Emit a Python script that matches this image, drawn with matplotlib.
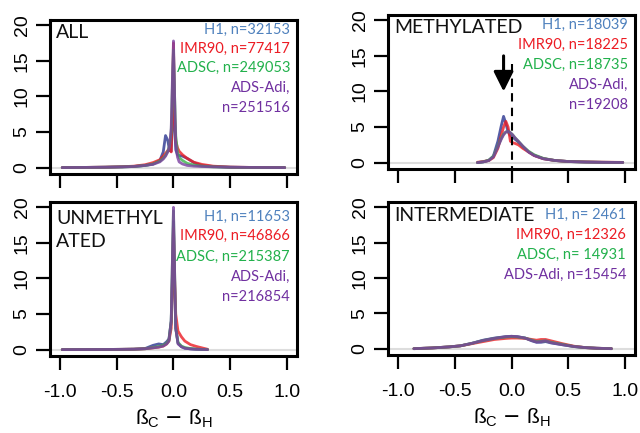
import matplotlib
matplotlib.use('Agg')
import matplotlib.pyplot as plt

# density curves of beta difference (cultured minus tissue), four cell types

# ALL
all_x = [-0.98, -0.8, -0.6, -0.45, -0.35, -0.25, -0.18, -0.12, -0.09, -0.07, -0.05, -0.035,
         -0.02, -0.01, 0.0, 0.01, 0.02, 0.035, 0.05, 0.08, 0.12, 0.18, 0.25, 0.35, 0.5, 0.7, 0.98]
all_h1 = [0.0, 0.02, 0.05, 0.1, 0.15, 0.3, 0.5, 1.0, 2.2, 4.5, 3.8, 2.4,
          2.3, 6.0, 16.0, 6.0, 2.5, 1.8, 1.7, 1.6, 1.3, 0.7, 0.3, 0.15, 0.05, 0.02, 0.0]
all_imr90 = [0.0, 0.02, 0.06, 0.12, 0.2, 0.4, 0.7, 1.1, 1.6, 2.0, 2.4, 2.6,
             2.2, 8.0, 17.5, 7.0, 3.8, 2.8, 2.3, 1.8, 1.3, 0.75, 0.45, 0.2, 0.07, 0.02, 0.0]
all_adsc = [0.0, 0.02, 0.05, 0.1, 0.15, 0.3, 0.5, 0.9, 1.3, 1.7, 2.3, 3.0,
            5.0, 11.0, 16.5, 10.0, 4.5, 2.2, 1.4, 1.0, 0.6, 0.35, 0.2, 0.1, 0.04, 0.01, 0.0]
all_adsadi = [0.0, 0.02, 0.05, 0.1, 0.15, 0.3, 0.45, 0.8, 1.2, 1.6, 2.2, 3.0,
              5.5, 12.0, 17.8, 10.0, 3.5, 1.5, 0.8, 0.5, 0.3, 0.2, 0.15, 0.1, 0.05, 0.02, 0.0]
all_n = ['32153', '77417', '249053', '251516']

# METHYLATED
meth_x = [-0.3, -0.25, -0.2, -0.16, -0.12, -0.09, -0.07, -0.05, -0.03, -0.01, 0.01,
          0.03, 0.06, 0.1, 0.15, 0.2, 0.28, 0.38, 0.5, 0.65, 0.8, 0.98]
meth_h1 = [0.0, 0.1, 0.3, 0.9, 3.0, 5.2, 6.5, 5.5, 4.3, 3.8, 3.6,
           3.3, 2.9, 2.2, 1.5, 1.0, 0.55, 0.3, 0.15, 0.08, 0.04, 0.02]
meth_imr90 = [0.05, 0.15, 0.3, 0.7, 2.0, 3.8, 5.0, 5.8, 5.0, 3.0, 2.8,
              2.7, 2.5, 2.0, 1.5, 1.0, 0.55, 0.3, 0.15, 0.1, 0.06, 0.03]
meth_adsc = [0.0, 0.1, 0.35, 0.9, 2.3, 3.4, 4.0, 4.3, 4.4, 4.2, 3.9,
             3.5, 3.0, 2.3, 1.6, 1.1, 0.6, 0.3, 0.15, 0.08, 0.04, 0.02]
meth_adsadi = [0.0, 0.1, 0.3, 0.8, 2.2, 3.3, 3.9, 4.3, 4.4, 4.2, 3.9,
               3.5, 3.0, 2.3, 1.5, 1.0, 0.55, 0.3, 0.15, 0.08, 0.04, 0.02]
meth_n = ['18039', '18225', '18735', '19208']

# UNMETHYLATED
unmeth_x = [-0.98, -0.8, -0.6, -0.45, -0.35, -0.25, -0.18, -0.13, -0.09, -0.06, -0.04, -0.02,
            -0.01, 0.0, 0.01, 0.02, 0.04, 0.07, 0.1, 0.15, 0.2, 0.25, 0.3]
unmeth_h1 = [0.0, 0.01, 0.02, 0.04, 0.06, 0.15, 0.6, 0.8, 0.7, 1.1, 1.5, 4.0,
             10.0, 18.0, 9.0, 3.0, 0.9, 0.4, 0.2, 0.1, 0.05, 0.02, 0.0]
unmeth_imr90 = [0.0, 0.01, 0.02, 0.04, 0.06, 0.12, 0.25, 0.35, 0.5, 0.8, 1.2, 3.0,
                9.0, 17.0, 10.0, 5.0, 2.6, 1.8, 1.2, 0.7, 0.45, 0.25, 0.05]
unmeth_adsc = [0.0, 0.01, 0.02, 0.04, 0.06, 0.12, 0.3, 0.45, 0.6, 0.9, 1.3, 4.0,
               12.0, 19.5, 11.0, 3.0, 1.0, 0.5, 0.3, 0.15, 0.08, 0.04, 0.0]
unmeth_adsadi = [0.0, 0.01, 0.02, 0.04, 0.06, 0.12, 0.25, 0.35, 0.5, 0.8, 1.2, 4.0,
                 12.0, 20.0, 11.0, 3.0, 0.8, 0.4, 0.2, 0.1, 0.05, 0.03, 0.0]
unmeth_n = ['11653', '46866', '215387', '216854']

# INTERMEDIATE
inter_x = [-0.86, -0.7, -0.55, -0.45, -0.35, -0.25, -0.15, -0.05, 0.0, 0.05, 0.12,
           0.18, 0.22, 0.26, 0.3, 0.35, 0.45, 0.55, 0.65, 0.75, 0.88]
inter_h1 = [0.0, 0.1, 0.25, 0.4, 0.75, 1.2, 1.5, 1.7, 1.75, 1.7, 1.5,
            1.1, 0.9, 0.9, 1.0, 0.8, 0.55, 0.3, 0.15, 0.06, 0.0]
inter_imr90 = [0.0, 0.1, 0.25, 0.4, 0.7, 1.0, 1.3, 1.45, 1.5, 1.5, 1.45,
               1.3, 1.2, 1.3, 1.3, 1.1, 0.7, 0.35, 0.15, 0.06, 0.0]
inter_adsc = [0.0, 0.1, 0.25, 0.4, 0.75, 1.15, 1.45, 1.65, 1.7, 1.65, 1.5,
              1.2, 1.0, 1.05, 1.1, 0.9, 0.6, 0.3, 0.15, 0.06, 0.0]
inter_adsadi = [0.0, 0.1, 0.25, 0.4, 0.75, 1.15, 1.45, 1.7, 1.75, 1.7, 1.5,
                1.15, 0.95, 1.0, 1.1, 0.85, 0.55, 0.3, 0.15, 0.06, 0.0]
inter_n = [' 2461', '12326', ' 14931', '15454']

cell_names = ['H1', 'IMR90', 'ADSC', 'ADS-Adi']
line_colors = ['#2b3590', '#ec1c24', '#3cb44b', '#7b3fa0']
text_colors = ['#4f81bd', '#ec1c24', '#22b14c', '#7030a0']

TEXT_FONT = ['Lato', 'DejaVu Sans']
TICK_FONT = ['Liberation Sans', 'DejaVu Sans']


def legend_lines(names, counts, split_last):
    lines = []
    for i, (name, n) in enumerate(zip(names, counts)):
        if split_last and i == len(names) - 1:
            lines.append((name + ',', i))
            lines.append(('n=' + n, i))
        else:
            lines.append(('%s, n=%s' % (name, n), i))
    return lines


def draw_panel(ax, x, series, counts, title_lines, title_y, text_x, text_y, split_last, show_xlabels):
    ax.axhline(0, color='#dddddd', lw=1.5, zorder=1)
    for y, c in zip(series, line_colors):
        ax.plot(x, y, color=c, lw=2.0, alpha=0.8, zorder=2,
                solid_joinstyle='round', solid_capstyle='round')

    ax.set_xlim(-1.088, 1.088)
    ax.set_ylim(-0.9, 20.75)
    ax.set_xticks([-1.0, -0.5, 0.0, 0.5, 1.0])
    ax.set_yticks([0, 5, 10, 15, 20])
    ax.tick_params(direction='out', length=10, width=1.6, labelsize=14)
    ax.tick_params(axis='y', pad=4)
    ax.tick_params(axis='x', pad=10)
    for lab in ax.get_yticklabels():
        lab.set_rotation(90)
        lab.set_verticalalignment('center')
        lab.set_family(TICK_FONT)
    if show_xlabels:
        ax.set_xticklabels(['-1.0', '-0.5', '0.0', '0.5', '1.0'], family=TICK_FONT)
        ax.set_xlabel(r'ß$_\mathregular{C}$ $-$ ß$_\mathregular{H}$', fontsize=15,
                      family=TICK_FONT, labelpad=5)
    else:
        ax.set_xticklabels([])
    for sp in ax.spines.values():
        sp.set_linewidth(2.2)

    for t, ty in zip(title_lines, title_y):
        ax.text(0.025, ty, t, transform=ax.transAxes, ha='left', va='center',
                fontsize=14, family=TEXT_FONT, color='#111111')

    lines = legend_lines(cell_names, counts, split_last)
    for k, (t, ci) in enumerate(lines):
        ax.text(text_x, text_y[k], t, transform=ax.transAxes, ha='right', va='center',
                fontsize=10.5, family=TEXT_FONT, color=text_colors[ci])


fig = plt.figure(figsize=(6.4, 4.33), dpi=100)

ax1 = fig.add_axes([0.0781, 0.5982, 0.3859, 0.3557])
ax2 = fig.add_axes([0.6063, 0.6097, 0.3859, 0.3557])
ax3 = fig.add_axes([0.0781, 0.1778, 0.3859, 0.3557])
ax4 = fig.add_axes([0.6063, 0.1801, 0.3859, 0.3533])

draw_panel(ax1, all_x, [all_h1, all_imr90, all_adsc, all_adsadi], all_n,
           ['ALL'], [0.916], 0.972, [0.935, 0.812, 0.688, 0.558, 0.429], True, False)
draw_panel(ax2, meth_x, [meth_h1, meth_imr90, meth_adsc, meth_adsadi], meth_n,
           ['METHYLATED'], [0.916], 0.972, [0.935, 0.805, 0.675, 0.545, 0.416], True, False)
draw_panel(ax3, unmeth_x, [unmeth_h1, unmeth_imr90, unmeth_adsc, unmeth_adsadi], unmeth_n,
           ['UNMETHYL', 'ATED'], [0.896, 0.742], 0.972, [0.905, 0.779, 0.645, 0.515, 0.385],
           True, True)
draw_panel(ax4, inter_x, [inter_h1, inter_imr90, inter_adsc, inter_adsadi], inter_n,
           ['INTERMEDIATE'], [0.915], 0.964, [0.915, 0.784, 0.654, 0.523], False, True)

# shift of the methylated peak away from zero
ax2.plot([0, 0], [13.8, -0.9], color='black', lw=1.5, ls=(0, (4, 3)), zorder=3)
ax2.annotate('', xy=(-0.07, 10.0), xytext=(-0.07, 15.0),
             arrowprops=dict(arrowstyle='-|>,head_length=0.6,head_width=0.3',
                             lw=2.2, color='black', mutation_scale=20,
                             shrinkA=0, shrinkB=0))

fig.savefig('out.png', dpi=100)
